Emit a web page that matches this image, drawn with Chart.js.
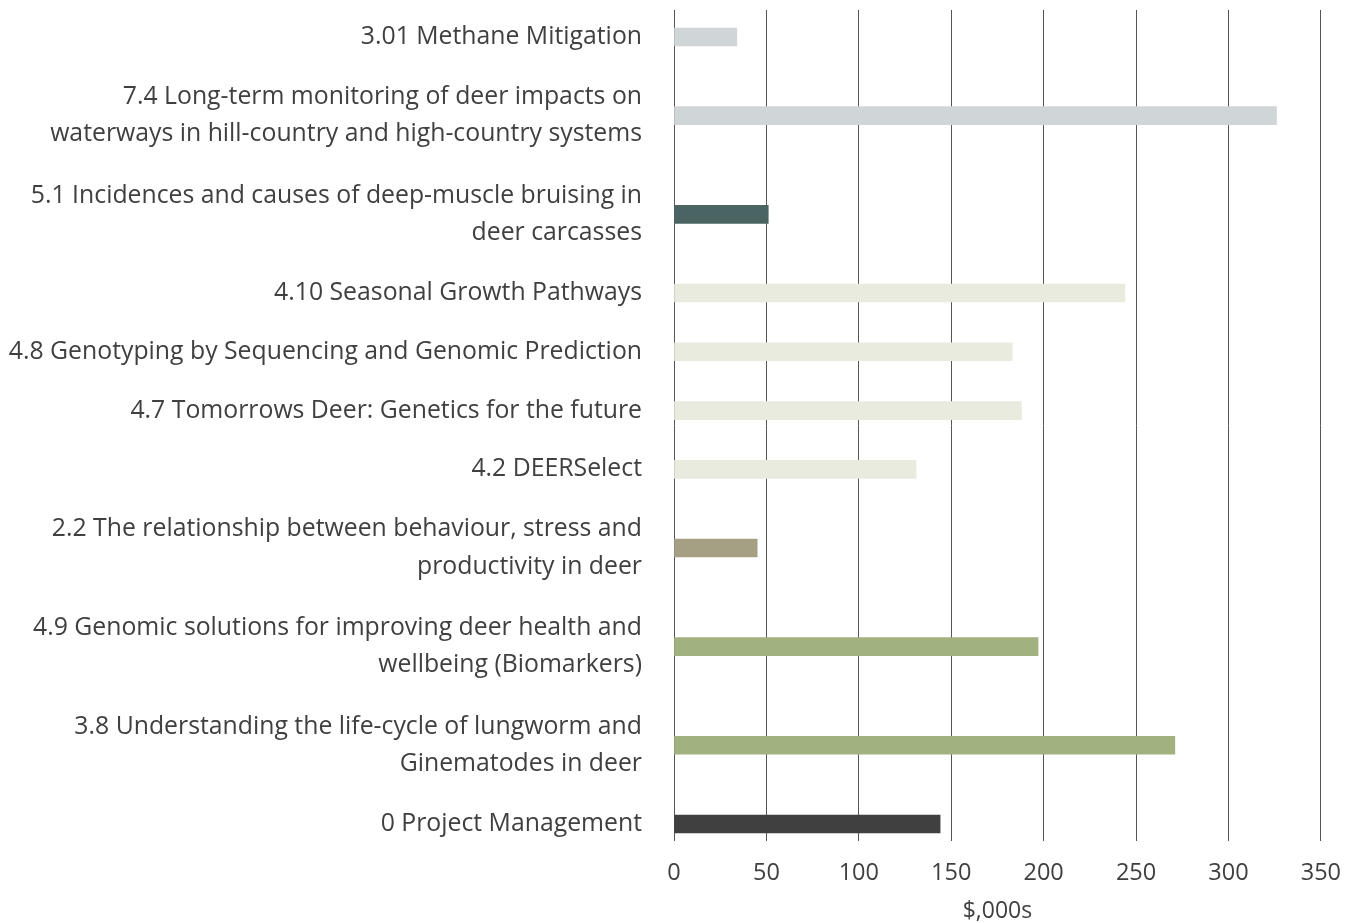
<!DOCTYPE html>
<html lang="en">
<head>
  <meta charset="UTF-8" />
  <title>Project budgets</title>
  <script src="https://cdn.jsdelivr.net/npm/chart.js"></script>
  <style>
    html, body { margin: 0; padding: 0; background: #fff; }
    #wrap { width: 1359px; height: 923px; }
  </style>
</head>
<body>
  <div id="wrap"><canvas id="grafico"></canvas></div>

  <script>
    // project names, already broken into the lines shown on the axis
    const projects = [
      ["3.01 Methane Mitigation"],
      ["7.4 Long-term monitoring of deer impacts on", "waterways in hill-country and high-country systems"],
      ["5.1 Incidences and causes of deep-muscle bruising in", "deer carcasses"],
      ["4.10 Seasonal Growth Pathways"],
      ["4.8 Genotyping by Sequencing and Genomic Prediction"],
      ["4.7 Tomorrows Deer: Genetics for the future"],
      ["4.2 DEERSelect"],
      ["2.2 The relationship between behaviour, stress and", "productivity in deer"],
      ["4.9 Genomic solutions for improving deer health and", "wellbeing (Biomarkers)"],
      ["3.8 Understanding the life-cycle of lungworm and", "Ginematodes in deer"],
      ["0 Project Management"]
    ];
    // $,000s
    const budget = [34, 326, 51, 244, 183, 188, 131, 45, 197, 271, 144];
    const barColors = [
      "#d0d5d8", "#d0d5d8", "#4a6463",
      "#e9ebdf", "#e9ebdf", "#e9ebdf", "#e9ebdf",
      "#a59f84", "#a1b17f", "#a1b17f", "#404040"
    ];
    const xTicks = [0, 50, 100, 150, 200, 250, 300, 350];

    // each row is as tall as its label: one line = 1, plus a gap
    const GAP = 0.475;
    const rowPos = [];
    let acc = 0;
    projects.forEach(lines => {
      const h = lines.length + GAP;
      rowPos.push(acc + h / 2);
      acc += h;
    });
    const total = acc;

    const txt = "#404040";
    const family = "'Open Sans', sans-serif";

    new Chart(document.getElementById("grafico"), {
      type: "bar",
      data: {
        datasets: [{
          data: budget.map((v, i) => ({ x: v, y: rowPos[i] })),
          backgroundColor: barColors,
          borderWidth: 0,
          barThickness: 18
        }]
      },
      options: {
        indexAxis: "y",
        responsive: true,
        maintainAspectRatio: false,
        animation: false,
        layout: { padding: { top: 10, right: 38, bottom: 0, left: 0 } },
        plugins: {
          legend: { display: false },
          tooltip: { enabled: false }
        },
        scales: {
          x: {
            type: "linear",
            min: 0,
            max: 350,
            border: { display: false },
            grid: { color: "#555", lineWidth: 1, drawTicks: false },
            afterBuildTicks: axis => { axis.ticks = xTicks.map(v => ({ value: v })); },
            afterFit: axis => { axis.height = 82; },
            ticks: { color: txt, font: { family, size: 23.5 }, padding: 18 },
            title: {
              display: true,
              text: "$,000s",
              color: txt,
              font: { family, size: 23, lineHeight: 1.0 },
              padding: { top: 11, bottom: 0 }
            }
          },
          y: {
            type: "linear",
            reverse: true,
            offset: false,
            min: 0.06,
            max: total - 0.31,
            border: { display: false },
            grid: { display: false, drawTicks: false, offset: false },
            afterBuildTicks: axis => { axis.ticks = rowPos.map(v => ({ value: v })); },
            afterFit: axis => {
              axis.width = 674;
              axis.paddingTop = 0;
              axis.paddingBottom = 0;
            },
            ticks: {
              autoSkip: false,
              color: txt,
              font: { family, size: 24.8, lineHeight: 1.51 },
              padding: 32,
              callback: (value, index) => projects[index]
            }
          }
        }
      }
    });
  </script>
</body>
</html>
